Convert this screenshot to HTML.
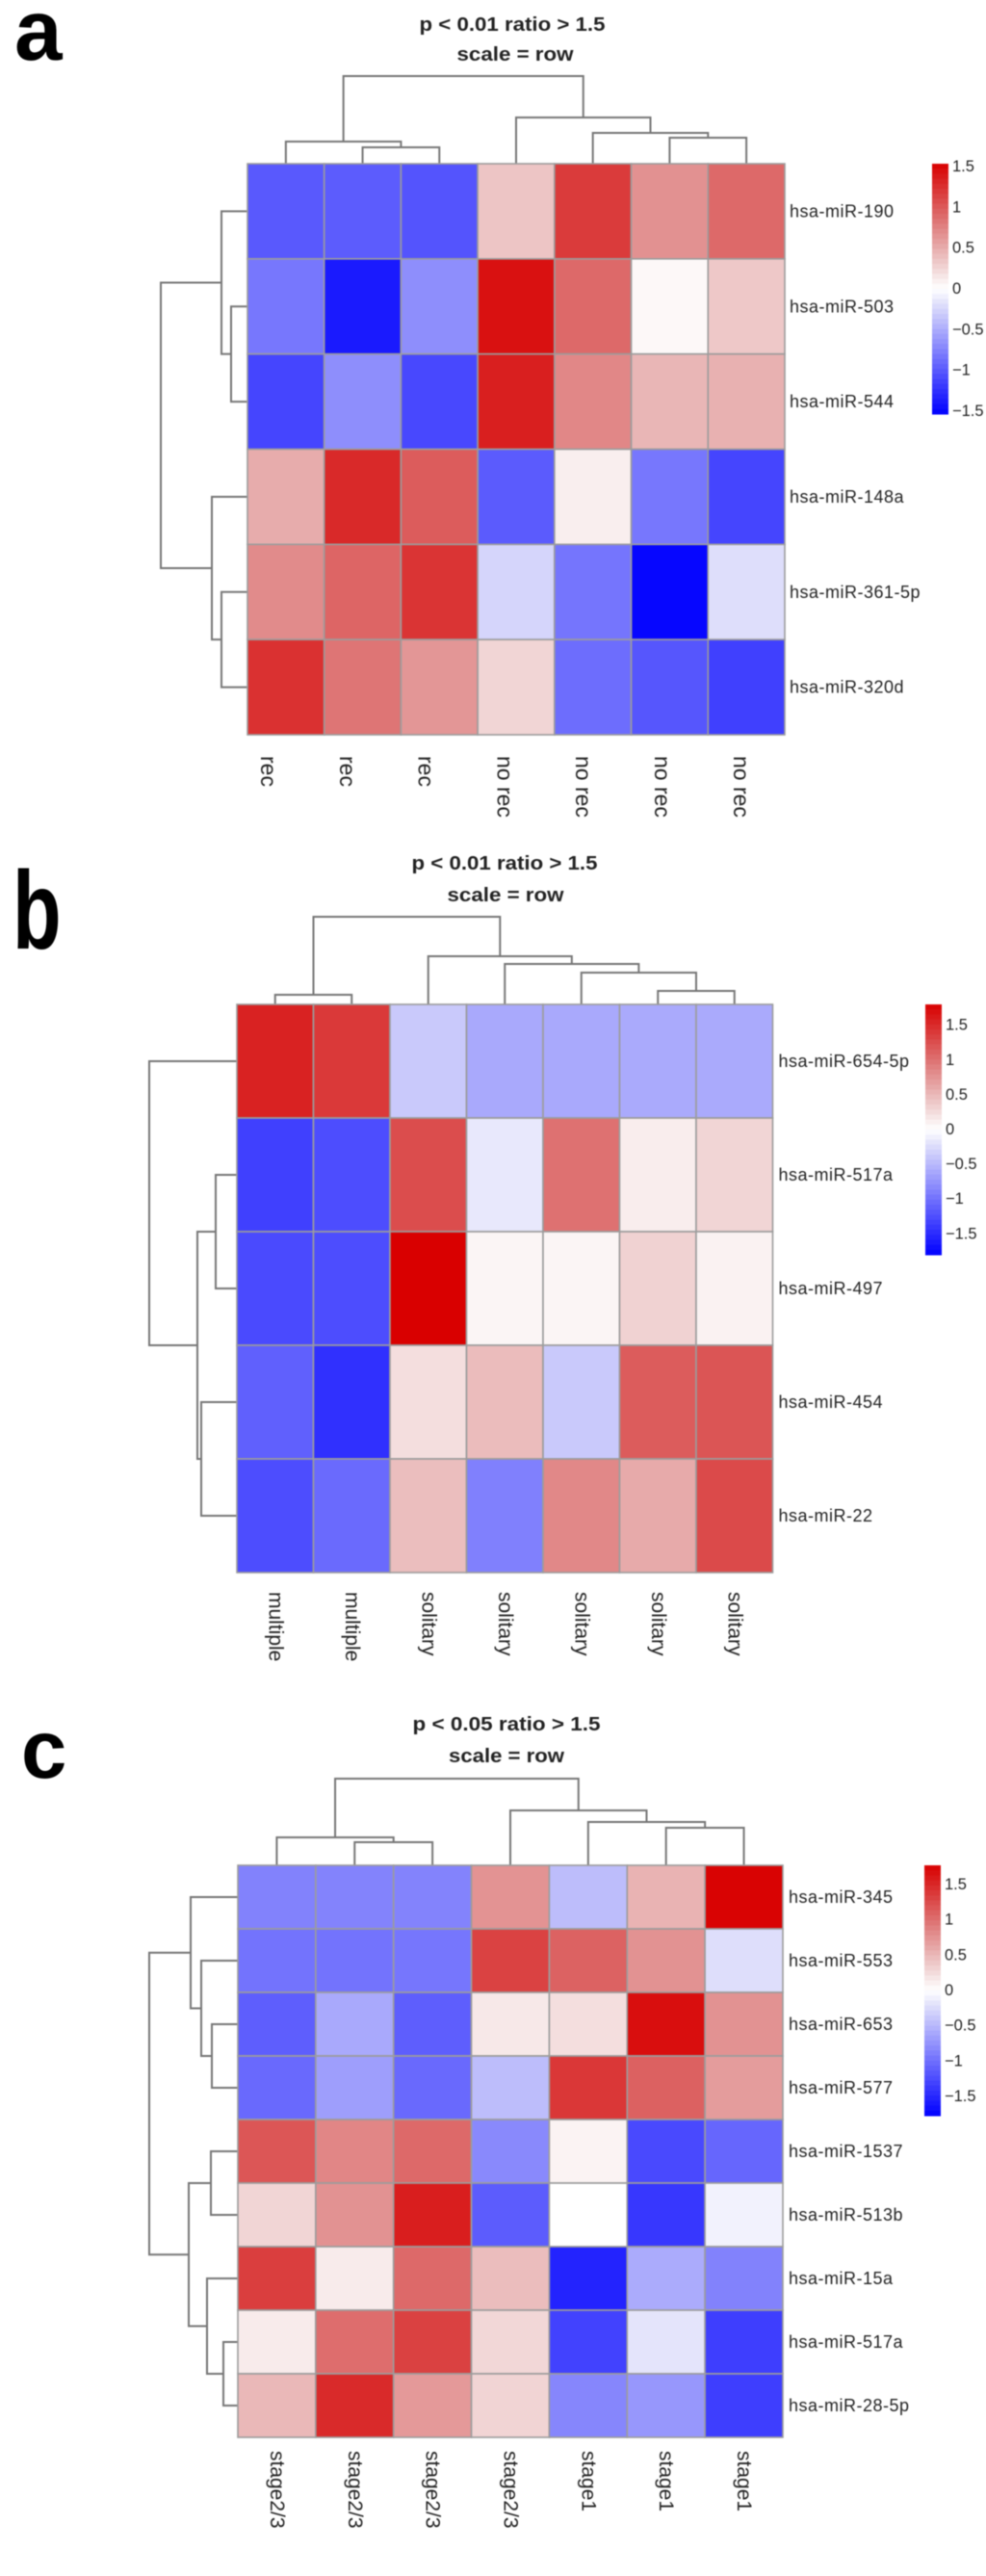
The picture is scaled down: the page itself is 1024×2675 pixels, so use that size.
<!DOCTYPE html>
<html lang="en">
<head>
<meta charset="utf-8">
<title>Clustered miRNA heatmaps</title>
<style>
html,body{margin:0;padding:0;background:#fff;}
body{width:1024px;height:2675px;overflow:hidden;}
svg{display:block;filter:blur(0.45px);}
text{font-family:"Liberation Sans",Arial,sans-serif;fill:#222;}
</style>
</head>
<body>
<svg id="figure" xmlns="http://www.w3.org/2000/svg" width="1024" height="2675" viewBox="0 0 1024 2675">
  <rect x="0" y="0" width="1024" height="2675" fill="#fff"/>
  <text x="15" y="62" font-size="89" font-weight="700" style="fill:#000">a</text>
  <text transform="translate(13 985) scale(0.72 1)" x="0" y="0" font-size="115" font-weight="700" style="fill:#000">b</text>
  <text x="22" y="1846" font-size="85" font-weight="700" style="fill:#000">c</text>
  <text x="532" y="32" text-anchor="middle" font-size="20" font-weight="700" textLength="193" lengthAdjust="spacingAndGlyphs">p &lt; 0.01 ratio &gt; 1.5</text>
  <text x="535" y="63" text-anchor="middle" font-size="20" font-weight="700" textLength="121" lengthAdjust="spacingAndGlyphs">scale = row</text>
  <text x="524" y="903" text-anchor="middle" font-size="20" font-weight="700" textLength="193" lengthAdjust="spacingAndGlyphs">p &lt; 0.01 ratio &gt; 1.5</text>
  <text x="525" y="936" text-anchor="middle" font-size="20" font-weight="700" textLength="121" lengthAdjust="spacingAndGlyphs">scale = row</text>
  <text x="526" y="1797" text-anchor="middle" font-size="20" font-weight="700" textLength="195" lengthAdjust="spacingAndGlyphs">p &lt; 0.05 ratio &gt; 1.5</text>
  <text x="526" y="1830" text-anchor="middle" font-size="20" font-weight="700" textLength="120" lengthAdjust="spacingAndGlyphs">scale = row</text>
</svg>
<script>
// ---------- Panel a data ----------
const rowsA = ["hsa-miR-190","hsa-miR-503","hsa-miR-544","hsa-miR-148a","hsa-miR-361-5p","hsa-miR-320d"];
const colsA = ["rec","rec","rec","no rec","no rec","no rec","no rec"];
const valuesA = [
  [-1.00,-0.98,-1.03, 0.35, 1.18, 0.66, 0.90],
  [-0.82,-1.38,-0.68, 1.43, 0.90, 0.04, 0.33],
  [-1.12,-0.68,-1.10, 1.35, 0.72, 0.44, 0.47],
  [ 0.50, 1.29, 0.98,-0.99, 0.10,-0.82,-1.12],
  [ 0.70, 0.93, 1.22,-0.25,-0.83,-1.50,-0.20],
  [ 1.24, 0.83, 0.63, 0.25,-0.88,-1.02,-1.15]
];
const colTreeA = [[0,[1,2,1.7],2.3],[3,[4,[5,6,2.7],3.2],4.8],9.1];
const rowTreeA = [[0,[1,2,1.7],2.7],[3,[4,5,2.7],3.7],9.0];
const ticksA = [1.5,1,0.5,0,-0.5,-1,-1.5];
const tickLabelsA = ["1.5","1","0.5","0","\u22120.5","\u22121","\u22121.5"];

// ---------- Panel b data ----------
const rowsB = ["hsa-miR-654-5p","hsa-miR-517a","hsa-miR-497","hsa-miR-454","hsa-miR-22"];
const colsB = ["multiple","multiple","solitary","solitary","solitary","solitary","solitary"];
const valuesB = [
  [ 1.56, 1.40,-0.38,-0.61,-0.61,-0.60,-0.60],
  [-1.35,-1.26, 1.26,-0.16, 1.00, 0.13, 0.30],
  [-1.28,-1.26, 1.80, 0.07, 0.07, 0.32, 0.09],
  [-1.12,-1.46, 0.23, 0.47,-0.38, 1.15, 1.20],
  [-1.26,-1.05, 0.46,-0.90, 0.84, 0.60, 1.28]
];
const colTreeB = [[0,1,1.0],[2,[3,[4,[5,6,1.4],3.3],4.2],5.0],9.1];
const rowTreeB = [0,[[1,2,2.2],[3,4,3.7],4.1],9.1];
const ticksB = [1.5,1,0.5,0,-0.5,-1,-1.5];
const tickLabelsB = ["1.5","1","0.5","0","\u22120.5","\u22121","\u22121.5"];

// ---------- Panel c data ----------
const rowsC = ["hsa-miR-345","hsa-miR-553","hsa-miR-653","hsa-miR-577","hsa-miR-1537","hsa-miR-513b","hsa-miR-15a","hsa-miR-517a","hsa-miR-28-5p"];
const colsC = ["stage2/3","stage2/3","stage2/3","stage2/3","stage1","stage1","stage1"];
const valuesC = [
  [-0.87,-0.86,-0.86, 0.75,-0.46, 0.53, 1.75],
  [-0.97,-0.97,-0.95, 1.31, 1.09, 0.76,-0.23],
  [-1.12,-0.60,-1.12, 0.16, 0.23, 1.67, 0.76],
  [-1.04,-0.67,-1.04,-0.46, 1.39, 1.10, 0.69],
  [ 1.17, 0.84, 1.04,-0.82, 0.08,-1.26,-1.06],
  [ 0.29, 0.76, 1.56,-1.13, 0.00,-1.39,-0.09],
  [ 1.34, 0.14, 1.04, 0.46,-1.53,-0.58,-0.87],
  [ 0.14, 1.01, 1.32, 0.28,-1.31,-0.19,-1.34],
  [ 0.49, 1.48, 0.71, 0.30,-0.84,-0.72,-1.34]
];
const colTreeC = [[0,[1,2,2.4],2.9],[3,[4,[5,6,3.9],4.5],5.7],9.0];
const rowTreeC = [[0,[1,[2,3,2.7],3.8],4.9],[[4,5,2.8],[6,[7,8,1.5],3.2],5.1],9.2];
const ticksC = [1.5,1,0.5,0,-0.5,-1,-1.5];
const tickLabelsC = ["1.5","1","0.5","0","\u22120.5","\u22121","\u22121.5"];

// ---------- Drawing ----------
const NS = "http://www.w3.org/2000/svg";
const figure = document.getElementById("figure");

function make(tag, attrs, parent) {
  const el = document.createElementNS(NS, tag);
  for (const k in attrs) el.setAttribute(k, attrs[k]);
  parent.appendChild(el);
  return el;
}

function valueColor(v, vmax) {
  const t = Math.min(1, Math.abs(v) / vmax);
  const low = Math.round(255 * (1 - t));
  if (v >= 0) return "rgb(" + Math.round(217 + 38 * Math.pow(1 - t, 2.5)) + "," + low + "," + low + ")";
  return "rgb(" + low + "," + low + "," + Math.round(255 - 5 * Math.min(1, t * 8) * (1 - t)) + ")";
}

function drawTree(node, leafPos, depthScale, horizontal, parent) {
  if (!Array.isArray(node)) return { pos: leafPos(node), h: 0 };
  const a = drawTree(node[0], leafPos, depthScale, horizontal, parent);
  const b = drawTree(node[1], leafPos, depthScale, horizontal, parent);
  const h = depthScale(node[2]);
  const ha = depthScale(a.h), hb = depthScale(b.h);
  let d;
  if (horizontal) d = "M" + ha + " " + a.pos + "H" + h + "V" + b.pos + "H" + hb;
  else d = "M" + a.pos + " " + ha + "V" + h + "H" + b.pos + "V" + hb;
  const link = make("path", { d: d, fill: "none", stroke: "#767676", "stroke-width": 2 }, parent);
  
  
  return { pos: (a.pos + b.pos) / 2, h: node[2] };
}

function drawPanel(p) {
  const g = make("g", {}, figure);
  
  

  const cw = p.w / p.cols.length, rh = p.h / p.rows.length;
  const xOf = j => p.x + j * cw;
  const yOf = i => p.y + i * rh;
  const labelXOf = j => p.labelX0 + j * p.labelStep;

  // dendrograms
  const colRoot = p.colTree[2], rowRoot = p.rowTree[2];
  const colG = make("g", {}, g);
  
  
  drawTree(p.colTree, j => xOf(j + 0.5), d => p.y - d / colRoot * p.colDepth, false, colG);
  const rowG = make("g", {}, g);
  
  
  drawTree(p.rowTree, i => yOf(i + 0.5), d => p.x - d / rowRoot * p.rowDepth, true, rowG);

  // cells
  p.values.forEach((row, i) => {
    row.forEach((v, j) => {
      const cell = make("rect", {
        x: xOf(j), y: yOf(i), width: cw, height: rh,
        fill: valueColor(v, p.vmax), stroke: "#9c9c9c", "stroke-width": 1.6
      }, g);
      
      
    });
  });

  // row labels
  p.rows.forEach((name, i) => {
    const t = make("text", {
      x: p.x + p.w + p.rowGap, y: yOf(i + 0.5), "font-size": 18, "letter-spacing": 0.5, "dominant-baseline": "central"
    }, g);
    t.textContent = name;
    
    
  });

  // column labels
  p.cols.forEach((name, j) => {
    const lx = labelXOf(j), ly = p.y + p.h + p.colGap;
    const t = make("text", {
      x: lx, y: ly, "font-size": p.colFont, "dominant-baseline": "central",
      transform: "rotate(90 " + lx + " " + ly + ")"
    }, g);
    t.textContent = name;
    
    
  });

  // colour bar
  const barG = make("g", {}, g);
  
  
  const steps = 50, barH = 260, barTop = p.y;
  const barY = v => barTop + barH / 2 - v / p.vmax * barH / 2;
  for (let s = 0; s < steps; s++) {
    const v0 = p.vmax * (1 - 2 * s / steps), v1 = p.vmax * (1 - 2 * (s + 1) / steps);
    const r = make("rect", {
      x: p.barX, y: barY(v0), width: 17, height: barY(v1) - barY(v0) + 0.5,
      fill: valueColor((v0 + v1) / 2, p.vmax)
    }, barG);
    
    
  }
  p.ticks.forEach((v, k) => {
    const t = make("text", {
      x: p.barX + 21, y: barY(v), "font-size": 16.5, "dominant-baseline": "central"
    }, barG);
    t.textContent = p.tickLabels[k];
    
    
  });
}

drawPanel({ id: "a", x: 257, y: 170, w: 558, h: 593, colDepth: 91, rowDepth: 90,
  rows: rowsA, cols: colsA, values: valuesA, colTree: colTreeA, rowTree: rowTreeA,
  ticks: ticksA, tickLabels: tickLabelsA, vmax: 1.535, barX: 968, rowGap: 5, colGap: 22,
  colFont: 23, labelX0: 279, labelStep: 81.8 });
drawPanel({ id: "b", x: 246, y: 1043, w: 556.5, h: 590, colDepth: 91, rowDepth: 91,
  rows: rowsB, cols: colsB, values: valuesB, colTree: colTreeB, rowTree: rowTreeB,
  ticks: ticksB, tickLabels: tickLabelsB, vmax: 1.8, barX: 961, rowGap: 6, colGap: 20,
  colFont: 21, labelX0: 285.75, labelStep: 79.5 });
drawPanel({ id: "c", x: 247, y: 1937, w: 566, h: 594, colDepth: 90, rowDepth: 92,
  rows: rowsC, cols: colsC, values: valuesC, colTree: colTreeC, rowTree: rowTreeC,
  ticks: ticksC, tickLabels: tickLabelsC, vmax: 1.77, barX: 960, rowGap: 6, colGap: 14,
  colFont: 21, labelX0: 287.4, labelStep: 80.85 });
</script>
</body>
</html>
